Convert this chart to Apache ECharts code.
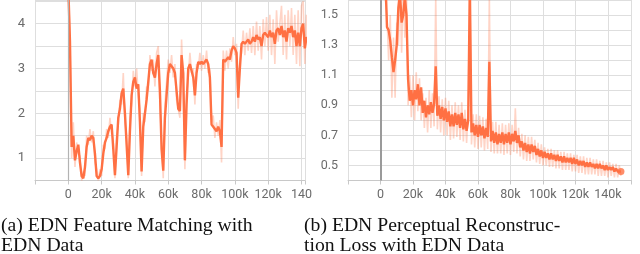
<!DOCTYPE html>
<html>
<head>
<meta charset="utf-8">
<script src="https://cdn.jsdelivr.net/npm/echarts@6/dist/echarts.min.js"></script>
<style>html,body{margin:0;padding:0;background:#fff}#c{width:640px;height:254px}</style>
</head>
<body>
<div id="c"></div>
<script>
// ---- (a) EDN Feature Matching (steps in thousands) ----
const stepsA = [0,1,2,3,4,5,6,7,8,9,10,11,12,13,14,15,16,17,18,19,20,21,22,23,24,25,26,27,28,29,30,31,32,33,34,35,36,37,38,39,40,41,42,43,44,45,46,47,48,49,50,51,52,53,54,55,56,57,58,59,60,61,62,63,64,65,66,67,68,69,70,71,72,73,74,75,76,77,78,79,80,81,82,83,84,85,86,87,88,89,90,91,92,93,94,95,96,97,98,99,100,101,102,103,104,105,106,107,108,109,110,111,112,113,114,115,116,117,118,119,120,121,122,123,124,125,126,127,128,129,130,131,132,133,134,135,136,137,138,139,140,141,142,143,144];
const smoothA = [4.8,3.6,1.25,1.5,0.95,1.15,1.3,0.9,0.6,0.55,0.8,1.25,1.45,1.4,1.5,1.45,1.1,0.6,0.55,0.6,0.75,1.1,1.35,1.45,1.6,1.7,1.75,1.2,0.62,1.25,1.9,2.1,2.45,2.55,2.0,1.3,0.62,1.6,2.4,2.7,2.8,2.55,2.65,1.8,0.7,1.7,2.0,2.3,2.7,3.1,3.2,2.9,2.8,3.1,3.3,2.5,1.2,0.72,1.9,2.4,2.9,3.1,3.05,3.0,2.9,2.5,2.1,2.05,3.3,2.9,0.95,2.2,3.0,3.1,3.1,2.8,2.4,2.9,3.15,3.1,3.15,3.1,3.15,3.2,3.1,2.8,1.75,1.7,1.65,1.6,1.7,1.6,1.25,3.2,3.15,3.2,3.25,3.2,3.4,3.5,3.45,3.35,2.35,3.0,3.55,3.6,3.55,3.6,3.65,3.55,3.6,3.7,3.6,3.75,3.65,3.7,3.5,3.75,3.8,3.8,3.7,3.85,3.7,3.8,3.55,3.85,3.9,3.75,3.95,3.7,3.85,3.6,3.9,3.8,3.95,3.7,3.85,3.5,3.8,3.5,3.9,4.0,3.45,3.7,3.6];
const rawA = [4.8,3.7,1.0,1.8,0.8,1.35,1.1,1.05,0.5,0.7,0.6,1.5,1.3,1.65,1.35,1.6,0.9,0.75,0.5,0.75,0.6,1.3,1.2,1.65,1.45,1.9,1.55,1.4,0.55,1.5,1.75,2.3,2.2,2.9,1.8,1.5,0.55,1.9,2.2,2.95,2.6,3.0,2.4,2.1,0.6,2.0,1.8,2.6,2.5,3.3,2.95,3.2,2.6,3.35,3.5,2.2,1.4,0.55,2.2,2.2,3.2,2.9,3.3,2.8,3.1,2.3,2.3,1.9,3.65,2.6,0.75,2.4,2.8,3.35,2.9,3.0,2.2,3.1,3.0,3.35,2.95,3.3,3.0,3.4,2.9,3.0,1.8,1.95,1.45,1.8,1.5,1.85,0.9,3.4,2.95,3.4,3.0,3.45,3.15,3.7,3.3,3.55,2.1,3.2,3.35,3.85,3.3,3.8,3.4,3.9,3.35,3.95,3.3,4.05,3.4,3.95,3.2,4.1,3.5,4.15,3.4,4.2,3.3,4.1,3.1,4.3,3.6,4.0,4.4,3.3,4.2,3.2,4.3,3.5,4.35,3.3,4.2,3.1,4.3,3.05,4.4,4.5,3.1,4.2,3.3];

// ---- (b) EDN Perceptual Reconstruction Loss (steps in thousands) ----
const stepsB = [3,4,5,6,7,8,9,10,11,12,13,14,15,16,17,18,19,20,21,22,23,24,25,26,27,28,29,30,31,32,33,34,35,36,37,38,39,40,41,42,43,44,45,46,47,48,49,50,51,52,53,54,55,56,57,58,59,60,61,62,63,64,65,66,67,68,69,70,71,72,73,74,75,76,77,78,79,80,81,82,83,84,85,86,87,88,89,90,91,92,93,94,95,96,97,98,99,100,101,102,103,104,105,106,107,108,109,110,111,112,113,114,115,116,117,118,119,120,121,122,123,124,125,126,127,128,129,130,131,132,133,134,135,136,137,138,139,140,141,142,143,144,145,146,147,148];
const smoothB = [1.75,1.42,1.4,1.33,1.22,1.12,1.2,1.3,1.55,1.65,1.45,1.5,1.62,1.5,1.07,0.93,1.0,0.9,1.0,0.94,1.04,0.9,1.02,0.85,0.93,0.82,0.9,0.84,0.92,0.85,0.91,1.16,0.83,0.9,0.81,0.89,0.8,0.88,0.79,0.86,0.76,0.84,0.76,0.85,0.77,0.84,0.75,0.85,0.74,0.81,0.73,0.8,1.7,0.72,0.78,0.7,0.77,0.69,0.77,0.7,0.76,0.68,0.75,0.69,1.19,0.66,0.73,0.65,0.72,0.64,0.71,0.65,0.72,0.64,0.71,0.65,0.72,0.64,0.71,0.66,0.73,0.65,0.7,0.62,0.66,0.6,0.65,0.59,0.64,0.58,0.64,0.59,0.63,0.57,0.61,0.56,0.6,0.55,0.59,0.55,0.58,0.54,0.58,0.54,0.57,0.53,0.57,0.53,0.56,0.52,0.56,0.52,0.55,0.52,0.55,0.51,0.55,0.51,0.54,0.5,0.53,0.5,0.53,0.49,0.52,0.49,0.52,0.49,0.51,0.48,0.51,0.48,0.51,0.48,0.5,0.47,0.5,0.47,0.49,0.47,0.49,0.46,0.48,0.46,0.47,0.46];
const rawB = [1.6,1.5,1.2,1.5,0.95,1.35,0.95,1.45,1.3,1.7,1.25,1.7,1.35,1.65,0.9,1.1,0.82,1.1,0.8,1.12,0.86,1.08,0.8,0.98,0.75,0.95,0.72,1.0,0.75,0.98,0.76,1.62,0.74,0.96,0.72,0.94,0.7,0.95,0.7,0.93,0.67,0.9,0.68,0.92,0.69,0.9,0.67,0.92,0.66,0.87,0.65,0.88,1.7,0.64,0.84,0.62,0.84,0.61,0.83,0.62,0.82,0.6,0.81,0.61,1.62,0.59,0.79,0.58,0.79,0.58,0.77,0.58,0.78,0.57,0.77,0.58,0.78,0.57,0.77,0.59,0.88,0.58,0.75,0.56,0.71,0.54,0.7,0.53,0.69,0.53,0.69,0.54,0.67,0.52,0.65,0.51,0.64,0.5,0.62,0.5,0.61,0.49,0.61,0.49,0.6,0.48,0.6,0.48,0.59,0.47,0.59,0.47,0.58,0.47,0.58,0.46,0.57,0.46,0.57,0.45,0.56,0.45,0.56,0.44,0.55,0.44,0.55,0.44,0.54,0.44,0.54,0.43,0.53,0.43,0.53,0.43,0.52,0.42,0.52,0.43,0.51,0.42,0.51,0.42,0.5,0.43];

// ---- captions ----
const captionA = ['(a) EDN Feature Matching with', 'EDN Data'];
const captionB = ['(b) EDN Perceptual Reconstruc-', 'tion Loss with EDN Data'];

const pairs = (xs, ys) => xs.map((x, i) => [x, ys[i]]);
const ORANGE = '#ff7043';
const RAW = 'rgba(255,112,67,0.30)';
const GRID = '#dedede';
const LBL = '#6b6b6b';

function xAxisCfg(gi, max, lastNoK) {
  return {
    gridIndex: gi, type: 'value', min: -20, max: max, interval: 20,
    axisLine: { show: true, onZero: false, lineStyle: { color: '#c8c8c8' } },
    axisTick: { show: true, length: 4, lineStyle: { color: '#c8c8c8' } },
    splitLine: { show: true, lineStyle: { color: GRID } },
    axisLabel: {
      color: LBL, fontSize: 12.5, fontFamily: 'Roboto', margin: 8,
      formatter: v => {
        const r = Math.round(v);
        if (r < 0 || Math.abs(v - r) > 1e-6 || r % 20 !== 0) return '';
        if (r === 0) return '0';
        if (lastNoK && r === 140) return '140';
        return r + 'k';
      }
    }
  };
}

const chart = echarts.init(document.getElementById('c'), null, { renderer: 'canvas' });

const capFont = { fontFamily: '"Liberation Serif","Times New Roman",serif', fontSize: 19.7, fill: '#111' };
const graphics = [
  { type: 'text', left: 1, top: 216, style: Object.assign({ text: captionA[0] }, capFont) },
  { type: 'text', left: 1, top: 236, style: Object.assign({ text: captionA[1] }, capFont) },
  { type: 'text', left: 304, top: 216, style: Object.assign({ text: captionB[0] }, capFont) },
  { type: 'text', left: 304, top: 236, style: Object.assign({ text: captionB[1] }, capFont) }
];

const zeroLine = (color, width) => ({
  silent: true, symbol: ['none', 'none'], label: { show: false },
  lineStyle: { color: color, width: width, type: 'solid' },
  emphasis: { disabled: true },
  data: [{ xAxis: 0 }]
});

chart.setOption({
  animation: false,
  backgroundColor: '#fff',
  grid: [
    { left: 35, top: 0, width: 270, height: 180.5 },
    { left: 348, top: 0, width: 283.5, height: 180.5 }
  ],
  xAxis: [ xAxisCfg(0, 142.1, true), xAxisCfg(1, 154.5, false) ],
  yAxis: [
    {
      gridIndex: 0, type: 'value', min: 0.5, max: 4.53, interval: 0.5,
      axisLine: { show: false }, axisTick: { show: false },
      splitLine: { show: true, lineStyle: { color: GRID } },
      axisLabel: {
        color: LBL, fontSize: 13, fontFamily: 'Roboto', margin: 10,
        formatter: v => (Math.abs(v - Math.round(v)) < 1e-6 ? String(Math.round(v)) : '')
      }
    },
    {
      gridIndex: 1, type: 'value', min: 0.4, max: 1.6, interval: 0.1,
      axisLine: { show: false }, axisTick: { show: false },
      splitLine: { show: true, lineStyle: { color: GRID } },
      axisLabel: {
        color: LBL, fontSize: 12.5, fontFamily: 'Roboto', margin: 10,
        formatter: v => { const r = Math.round(v * 10); return (r % 2 === 1 && r < 16) ? (r / 10).toFixed(1) : ''; }
      }
    }
  ],
  series: [
    { type: 'line', xAxisIndex: 0, yAxisIndex: 0, data: pairs(stepsA, rawA), showSymbol: false,
      lineStyle: { color: RAW, width: 1.6 }, itemStyle: { color: RAW }, z: 1, markLine: zeroLine('#b3b3b3', 1.2) },
    { type: 'line', xAxisIndex: 0, yAxisIndex: 0, data: pairs(stepsA, smoothA), showSymbol: false,
      lineStyle: { color: ORANGE, width: 2.4 }, itemStyle: { color: ORANGE }, z: 3 },
    { type: 'line', xAxisIndex: 1, yAxisIndex: 1, data: pairs(stepsB, rawB), showSymbol: false,
      lineStyle: { color: RAW, width: 1.6 }, itemStyle: { color: RAW }, z: 1, markLine: zeroLine('#9a9a9a', 2) },
    { type: 'line', xAxisIndex: 1, yAxisIndex: 1, data: pairs(stepsB, smoothB), showSymbol: false,
      lineStyle: { color: ORANGE, width: 2.4 }, itemStyle: { color: ORANGE }, z: 3 },
    { type: 'scatter', xAxisIndex: 1, yAxisIndex: 1,
      data: [[stepsB[stepsB.length - 1], smoothB[smoothB.length - 1]]],
      symbol: 'circle', symbolSize: 7, itemStyle: { color: ORANGE }, z: 4 }
  ],
  graphic: graphics
});
</script>
</body>
</html>
